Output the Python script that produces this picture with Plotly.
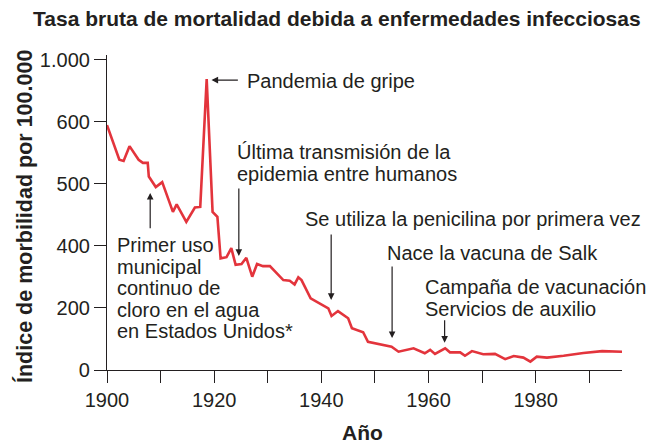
import numpy as np
import plotly.graph_objects as go

# Crude death rate from infectious diseases (per 100,000), by year
years = [1900, 1902.3, 1903.1, 1904.2, 1905.9, 1906.7, 1907.6, 1907.8, 1909.1, 1910.3,
         1912.3, 1913.0, 1914.8, 1916.4, 1917.4, 1918.6, 1919.7, 1920.6, 1921.2, 1922.3,
         1923.2, 1924.0, 1925.1, 1926.0, 1927.1, 1928.0, 1929.1, 1930.4, 1932.9, 1934.1,
         1935.0, 1935.7, 1936.3, 1938.0, 1941.3, 1941.9, 1943.1, 1945.0, 1945.7, 1947.8,
         1948.7, 1953.1, 1954.4, 1957.2, 1959.3, 1960.3, 1961.2, 1963.1, 1964.0, 1965.9,
         1966.8, 1968.1, 1970.2, 1972.4, 1974.3, 1975.9, 1977.7, 1979.0, 1980.2, 1982.1,
         1985.2, 1988.9, 1992.4, 1996.1]
rates = [595, 539, 537, 561, 539, 534, 534, 512, 495, 503,
         455, 467, 439, 462, 463, 876, 455, 447, 360, 364,
         393, 339, 342, 362, 301, 342, 335, 335, 290, 288,
         276, 299, 290, 231, 199, 174, 190, 167, 135, 122,
         91, 75, 59, 70, 54, 65, 52, 70, 57, 57,
         46, 61, 51, 52, 35, 45, 40, 27, 43, 40,
         46, 55, 61, 59]

# The vertical scale is segmented: equal spacing between these tick values
y_ticks = [0, 200, 400, 500, 600, 1000]
y_tick_text = ["0", "200", "400", "500", "600", "1.000"]
x_ticks = [1900, 1910, 1920, 1930, 1940, 1950, 1960, 1970, 1980, 1990]
x_tick_text = ["1900", "", "1920", "", "1940", "", "1960", "", "1980", ""]


def seg(v):
    """Map a rate onto the segmented vertical scale."""
    return np.interp(v, y_ticks, np.arange(len(y_ticks)))


FONT = "Liberation Sans, Arial, sans-serif"
INK = "#231f20"
RED = "#e3343c"

fig = go.Figure()
fig.add_trace(go.Scatter(
    x=years, y=seg(rates), mode="lines",
    line=dict(color=RED, width=2.6), hoverinfo="skip", showlegend=False))

L, R, T, B = 107, 27, 55, 73
W, H = 649, 443
PW, PH = W - L - R, H - T - B


def px(x, y):
    return (x - L) / PW, (H - B - y) / PH


annotations = []


def text_line(s, x, y, size=20, bold=False, xanchor="left", angle=0):
    xp, yp = px(x, y)
    annotations.append(dict(
        text=f"<b>{s}</b>" if bold else s, x=xp, y=yp, xref="paper", yref="paper",
        xanchor=xanchor, yanchor="middle", showarrow=False, textangle=angle,
        font=dict(family=FONT, size=size, color=INK)))


def arrow(tail_year, tail_rate, tip_year, tip_rate):
    annotations.append(dict(
        text="", x=tip_year, y=float(seg(tip_rate)), xref="x", yref="y",
        ax=tail_year, ay=float(seg(tail_rate)), axref="x", ayref="y",
        showarrow=True, arrowhead=2, arrowsize=1.1, arrowwidth=1.2,
        arrowcolor=INK, standoff=0, startstandoff=0))


# Influenza pandemic
text_line("Pandemia de gripe", 245, 81)
arrow(1924.7, 870, 1919.5, 870)

# Last human-to-human transmission
for i, s in enumerate(["Última transmisión de la", "epidemia entre humanos"]):
    text_line(s, 235, 152 + i * 21.5)
arrow(1924.6, 495, 1924.6, 368)

# First continuous municipal chlorination
for i, s in enumerate(["Primer uso", "municipal", "continuo de",
                       "cloro en el agua", "en Estados Unidos*"]):
    text_line(s, 115, 245 + i * 21.5)
arrow(1908.06, 426, 1908.06, 485.5)

# Penicillin
text_line("Se utiliza la penicilina por primera vez", 303, 219)
arrow(1941.83, 421, 1941.83, 226)

# Salk vaccine
text_line("Nace la vacuna de Salk", 385, 253)
arrow(1953.2, 339, 1953.2, 103)

# Vaccination campaign
for i, s in enumerate(["Campaña de vacunación", "Servicios de auxilio"]):
    text_line(s, 423, 287 + i * 21.5)
arrow(1963.0, 165, 1963.0, 88)

# Titles
text_line("Tasa bruta de mortalidad debida a enfermedades infecciosas", 336.5, 19,
          size=21, bold=True, xanchor="center")
text_line("Año", 362.5, 432, size=21, bold=True, xanchor="center")
text_line("Índice de morbilidad por 100.000", 25, 217, size=21.5, bold=True,
          xanchor="center", angle=-90)

fig.update_layout(
    width=W, height=H, margin=dict(l=L, r=R, t=T, b=B),
    paper_bgcolor="white", plot_bgcolor="white",
    annotations=annotations,
    xaxis=dict(range=[1900, 1996.1], tickvals=x_ticks, ticktext=x_tick_text,
               showline=True, linecolor=INK, linewidth=1.2, ticks="outside",
               ticklen=12, tickwidth=1.2, tickcolor=INK, showgrid=False,
               zeroline=False, tickfont=dict(family=FONT, size=20, color=INK)),
    yaxis=dict(range=[0, 5.08], tickvals=list(range(len(y_ticks))),
               ticktext=y_tick_text, showline=True, linecolor=INK, linewidth=1.2,
               ticks="outside", ticklen=12, tickwidth=1.2, tickcolor=INK,
               showgrid=False, zeroline=False,
               tickfont=dict(family=FONT, size=20, color=INK)),
)

fig.write_html("out.html")
